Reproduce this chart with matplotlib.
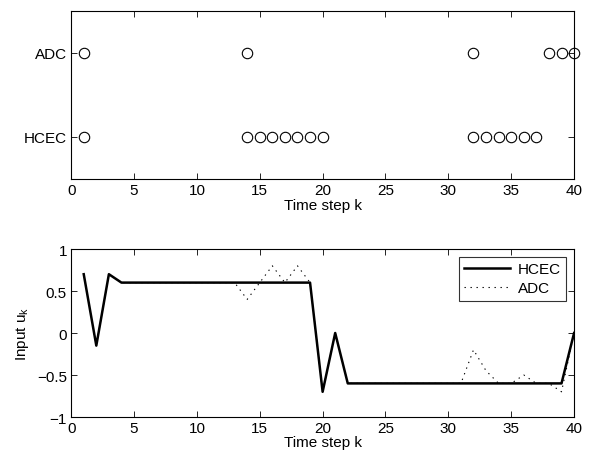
import numpy as np
import matplotlib
matplotlib.use('Agg')
import matplotlib.pyplot as plt

plt.rcParams['font.family'] = ['Liberation Sans', 'DejaVu Sans']
plt.rcParams['font.size'] = 11

# Event instants (top panel)
adc_events = [1, 14, 32, 38, 39, 40]
hcec_events = [1, 14, 15, 16, 17, 18, 19, 20, 32, 33, 34, 35, 36, 37]
event_labels = ['HCEC', 'ADC']

# Input sequences (bottom panel)
k = np.arange(1, 41)
u_hcec = [0.7, -0.15, 0.7, 0.6, 0.6, 0.6, 0.6, 0.6, 0.6, 0.6,
          0.6, 0.6, 0.6, 0.6, 0.6, 0.6, 0.6, 0.6, 0.6, -0.7,
          0.0, -0.6, -0.6, -0.6, -0.6, -0.6, -0.6, -0.6, -0.6, -0.6,
          -0.6, -0.6, -0.6, -0.6, -0.6, -0.6, -0.6, -0.6, -0.6, 0.0]
u_adc = [0.7, -0.15, 0.7, 0.6, 0.6, 0.6, 0.6, 0.6, 0.6, 0.6,
         0.6, 0.6, 0.6, 0.4, 0.6, 0.8, 0.6, 0.8, 0.6, -0.7,
         0.0, -0.6, -0.6, -0.6, -0.6, -0.6, -0.6, -0.6, -0.6, -0.6,
         -0.6, -0.2, -0.45, -0.6, -0.6, -0.5, -0.6, -0.6, -0.7, 0.0]

fig = plt.figure(figsize=(5.98, 4.6), dpi=100)

ax1 = fig.add_axes([0.119, 0.609, 0.841, 0.365])
ax1.plot(adc_events, [2] * len(adc_events), 'o', mfc='none', mec='k',
         ms=7.5, mew=0.8, clip_on=False)
ax1.plot(hcec_events, [1] * len(hcec_events), 'o', mfc='none', mec='k',
         ms=7.5, mew=0.8, clip_on=False)
ax1.set_xlim(0, 40)
ax1.set_ylim(0.5, 2.5)
ax1.set_yticks([1, 2])
ax1.set_yticklabels(event_labels)
ax1.set_xticks(range(0, 41, 5))
ax1.set_xlabel('Time step k', labelpad=1)

ax2 = fig.add_axes([0.119, 0.0913, 0.841, 0.3652])
ax2.plot(k, u_hcec, 'k-', lw=1.8, label='HCEC')
ax2.plot(k, u_adc, color='k', ls=(0, (1.2, 4.2)), lw=0.8, label='ADC')
ax2.set_xlim(0, 40)
ax2.set_ylim(-1, 1)
ax2.set_yticks([-1, -0.5, 0, 0.5, 1])
ax2.set_yticklabels(['\u22121', '\u22120.5', '0', '0.5', '1'])
ax2.set_xticks(range(0, 41, 5))
ax2.set_xlabel('Time step k', labelpad=0)
ax2.set_ylabel('Input u$_\\mathregular{k}$', labelpad=4)
leg = ax2.legend(loc='upper right', fancybox=False, edgecolor='k',
                 handlelength=3.0, handletextpad=0.5, borderaxespad=0.5,
                 borderpad=0.35, labelspacing=0.35)
leg.get_frame().set_linewidth(0.8)

for ax in (ax1, ax2):
    ax.tick_params(direction='in', top=True, right=True, length=4, width=0.6,
                   pad=3)
    for s in ax.spines.values():
        s.set_linewidth(0.8)

fig.savefig('out.png', dpi=100)
